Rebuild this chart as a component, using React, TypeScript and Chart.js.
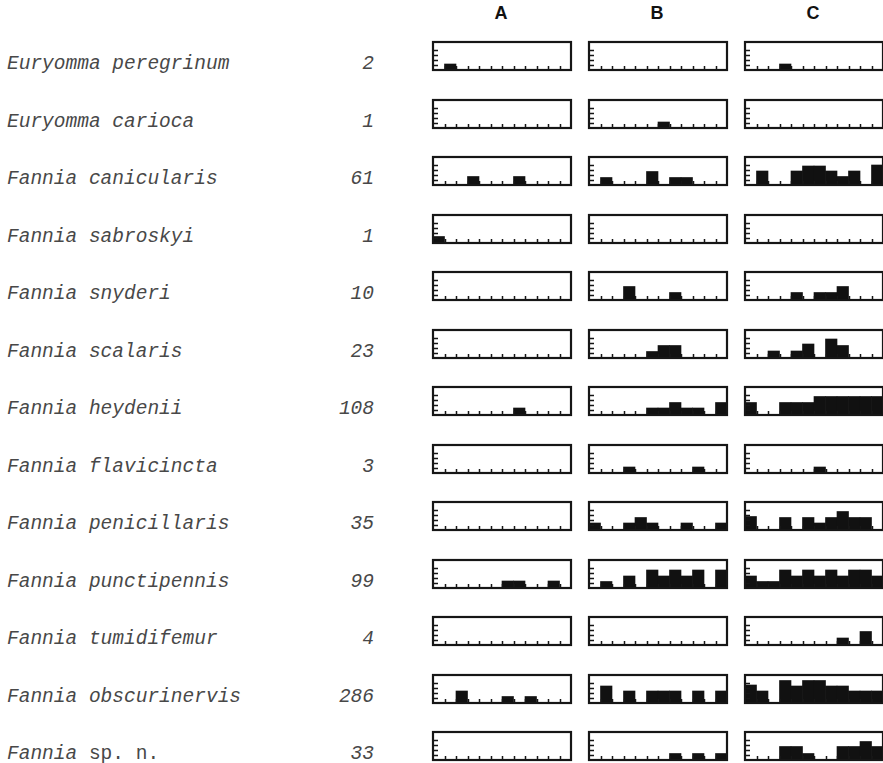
import React, { useEffect, useRef } from "react";
import { Chart, registerables } from "chart.js";

Chart.register(...registerables);

// ---- data ----
const months = ["1", "2", "3", "4", "5", "6", "7", "8", "9", "10", "11", "12"];
const columnLabels = ["A", "B", "C"];
const yTickValues = [1, 2, 3, 4];
const yMax = 5.6;

const species = [
  "Euryomma peregrinum",
  "Euryomma carioca",
  "Fannia canicularis",
  "Fannia sabroskyi",
  "Fannia snyderi",
  "Fannia scalaris",
  "Fannia heydenii",
  "Fannia flavicincta",
  "Fannia penicillaris",
  "Fannia punctipennis",
  "Fannia tumidifemur",
  "Fannia obscurinervis",
  "Fannia sp. n.",
];
const counts = ["2", "1", "61", "1", "10", "23", "108", "3", "35", "99", "4", "286", "33"];

// relative abundance per month, column A
const siteA: number[][] = [
  [0, 1.2, 0, 0, 0, 0, 0, 0, 0, 0, 0, 0],
  [0, 0, 0, 0, 0, 0, 0, 0, 0, 0, 0, 0],
  [0, 0, 0, 1.7, 0, 0, 0, 1.7, 0, 0, 0, 0],
  [1.3, 0, 0, 0, 0, 0, 0, 0, 0, 0, 0, 0],
  [0, 0, 0, 0, 0, 0, 0, 0, 0, 0, 0, 0],
  [0, 0, 0, 0, 0, 0, 0, 0, 0, 0, 0, 0],
  [0, 0, 0, 0, 0, 0, 0, 1.4, 0, 0, 0, 0],
  [0, 0, 0, 0, 0, 0, 0, 0, 0, 0, 0, 0],
  [0, 0, 0, 0, 0, 0, 0, 0, 0, 0, 0, 0],
  [0, 0, 0, 0, 0, 0, 1.4, 1.4, 0, 0, 1.4, 0],
  [0, 0, 0, 0, 0, 0, 0, 0, 0, 0, 0, 0],
  [0, 0, 2.4, 0, 0, 0, 1.3, 0, 1.3, 0, 0, 0],
  [0, 0, 0, 0, 0, 0, 0, 0, 0, 0, 0, 0],
];

// column B
const siteB: number[][] = [
  [0, 0, 0, 0, 0, 0, 0, 0, 0, 0, 0, 0],
  [0, 0, 0, 0, 0, 0, 1.2, 0, 0, 0, 0, 0],
  [0, 1.5, 0, 0, 0, 2.7, 0, 1.5, 1.5, 0, 0, 0],
  [0, 0, 0, 0, 0, 0, 0, 0, 0, 0, 0, 0],
  [0, 0, 0, 2.7, 0, 0, 0, 1.5, 0, 0, 0, 0],
  [0, 0, 0, 0, 0, 1.3, 2.5, 2.5, 0, 0, 0, 0],
  [0, 0, 0, 0, 0, 1.4, 1.4, 2.5, 1.4, 1.4, 0, 2.5],
  [0, 0, 0, 1.2, 0, 0, 0, 0, 0, 1.2, 0, 0],
  [1.4, 0, 0, 1.4, 2.5, 1.4, 0, 0, 1.4, 0, 0, 1.4],
  [0, 1.3, 0, 2.4, 0, 3.6, 2.4, 3.6, 2.4, 3.6, 0, 3.6],
  [0, 0, 0, 0, 0, 0, 0, 0, 0, 0, 0, 0],
  [0, 3.4, 0, 2.4, 0, 2.4, 2.4, 2.4, 0, 2.4, 0, 2.4],
  [0, 0, 0, 0, 0, 0, 0, 1.3, 0, 1.3, 0, 1.3],
];

// column C
const siteC: number[][] = [
  [0, 0, 0, 1.2, 0, 0, 0, 0, 0, 0, 0, 0],
  [0, 0, 0, 0, 0, 0, 0, 0, 0, 0, 0, 0],
  [0, 2.8, 0, 0, 2.8, 3.8, 3.8, 2.8, 1.7, 2.8, 0, 4.0],
  [0, 0, 0, 0, 0, 0, 0, 0, 0, 0, 0, 0],
  [0, 0, 0, 0, 1.5, 0, 1.5, 1.5, 2.7, 0, 0, 0],
  [0, 0, 1.4, 0, 1.4, 2.8, 0, 3.8, 2.5, 0, 0, 0],
  [2.5, 0, 0, 2.5, 2.5, 2.5, 3.7, 3.7, 3.7, 3.7, 3.7, 3.7],
  [0, 0, 0, 0, 0, 0, 1.2, 0, 0, 0, 0, 0],
  [2.7, 0, 0, 2.5, 0, 2.5, 1.4, 2.5, 3.7, 2.5, 2.5, 0],
  [2.4, 1.3, 1.3, 3.6, 2.4, 3.6, 2.4, 3.6, 2.4, 3.6, 3.6, 2.4],
  [0, 0, 0, 0, 0, 0, 0, 0, 1.4, 0, 2.7, 0],
  [3.6, 2.4, 0, 4.5, 3.4, 4.5, 4.5, 3.4, 3.4, 2.4, 2.4, 2.4],
  [0, 0, 0, 2.7, 2.7, 1.3, 0, 0, 2.7, 2.7, 3.7, 2.7],
];

const sites = [siteA, siteB, siteC];

// ---- frame plugin: box + inward ticks from the chart's own scales ----
const framePlugin = {
  id: "frame",
  afterDatasetsDraw(chart: any) {
    const { ctx, chartArea: a, scales } = chart;
    const x = scales.x;
    const y = scales.y;
    ctx.save();
    ctx.strokeStyle = "#161616";
    ctx.lineWidth = 1.5;
    ctx.beginPath();
    for (let i = 1; i < months.length; i++) {
      const px = Math.round((x.getPixelForValue(i - 1) + x.getPixelForValue(i)) / 2) + 0.5;
      ctx.moveTo(px, a.bottom);
      ctx.lineTo(px, a.bottom - 4);
    }
    for (const v of yTickValues) {
      const py = Math.round(y.getPixelForValue(v)) + 0.5;
      ctx.moveTo(a.left, py);
      ctx.lineTo(a.left + 5, py);
    }
    ctx.stroke();
    ctx.lineWidth = 2.2;
    ctx.strokeRect(a.left, a.top, a.right - a.left, a.bottom - a.top);
    ctx.restore();
  },
};

function MiniChart({ values, left, top }: { values: number[]; left: number; top: number }) {
  const ref = useRef<HTMLCanvasElement | null>(null);
  useEffect(() => {
    if (!ref.current) return;
    const chart = new Chart(ref.current, {
      type: "bar",
      data: {
        labels: months,
        datasets: [
          {
            data: values,
            backgroundColor: "#111111",
            borderWidth: 0,
            barPercentage: 1,
            categoryPercentage: 1,
          },
        ],
      },
      options: {
        responsive: false,
        animation: false,
        devicePixelRatio: 1,
        layout: { padding: 2 },
        plugins: { legend: { display: false }, tooltip: { enabled: false } },
        scales: {
          x: { display: false, offset: true },
          y: { display: false, min: 0, max: yMax },
        },
      },
      plugins: [framePlugin],
    });
    return () => chart.destroy();
  }, [values]);
  return (
    <canvas
      ref={ref}
      width={142}
      height={32}
      style={{ position: "absolute", left, top, width: 142, height: 32 }}
    />
  );
}

function SpeciesName({ name }: { name: string }) {
  const marker = " sp. n.";
  if (name.endsWith(marker)) {
    return (
      <>
        <span style={{ fontStyle: "italic" }}>{name.slice(0, -marker.length)}</span>
        <span style={{ fontStyle: "normal" }}>{marker}</span>
      </>
    );
  }
  return <span style={{ fontStyle: "italic" }}>{name}</span>;
}

export default function App() {
  const colLefts = [432, 588, 744];
  const rowTop = (i: number) => 41 + 57.5 * i;
  const textFont = "19.5px 'Liberation Mono', 'DejaVu Sans Mono', monospace";
  return (
    <div
      style={{
        position: "absolute",
        left: 0,
        top: 0,
        width: 883,
        height: 763,
        overflow: "hidden",
        background: "#ffffff",
      }}
    >
      {columnLabels.map((c, j) => (
        <div
          key={c}
          style={{
            position: "absolute",
            left: colLefts[j] - 1,
            top: 3,
            width: 140,
            textAlign: "center",
            font: "bold 18px 'Liberation Sans', Arial, sans-serif",
            lineHeight: "20px",
            color: "#111",
          }}
        >
          {c}
        </div>
      ))}
      {species.map((s, i) => (
        <div
          key={"n" + i}
          style={{
            position: "absolute",
            left: 7,
            top: rowTop(i) + 12,
            font: textFont,
            lineHeight: "22px",
            color: "#484848",
            whiteSpace: "pre",
          }}
        >
          <SpeciesName name={s} />
        </div>
      ))}
      {counts.map((c, i) => (
        <div
          key={"c" + i}
          style={{
            position: "absolute",
            left: 300,
            width: 74,
            top: rowTop(i) + 12,
            textAlign: "right",
            font: textFont,
            fontStyle: "italic",
            lineHeight: "22px",
            color: "#484848",
          }}
        >
          {c}
        </div>
      ))}
      {species.map((s, i) =>
        sites.map((site, j) => (
          <MiniChart
            key={s + j}
            values={site[i]}
            left={colLefts[j] - 1}
            top={Math.round(rowTop(i)) - 1}
          />
        ))
      )}
    </div>
  );
}
